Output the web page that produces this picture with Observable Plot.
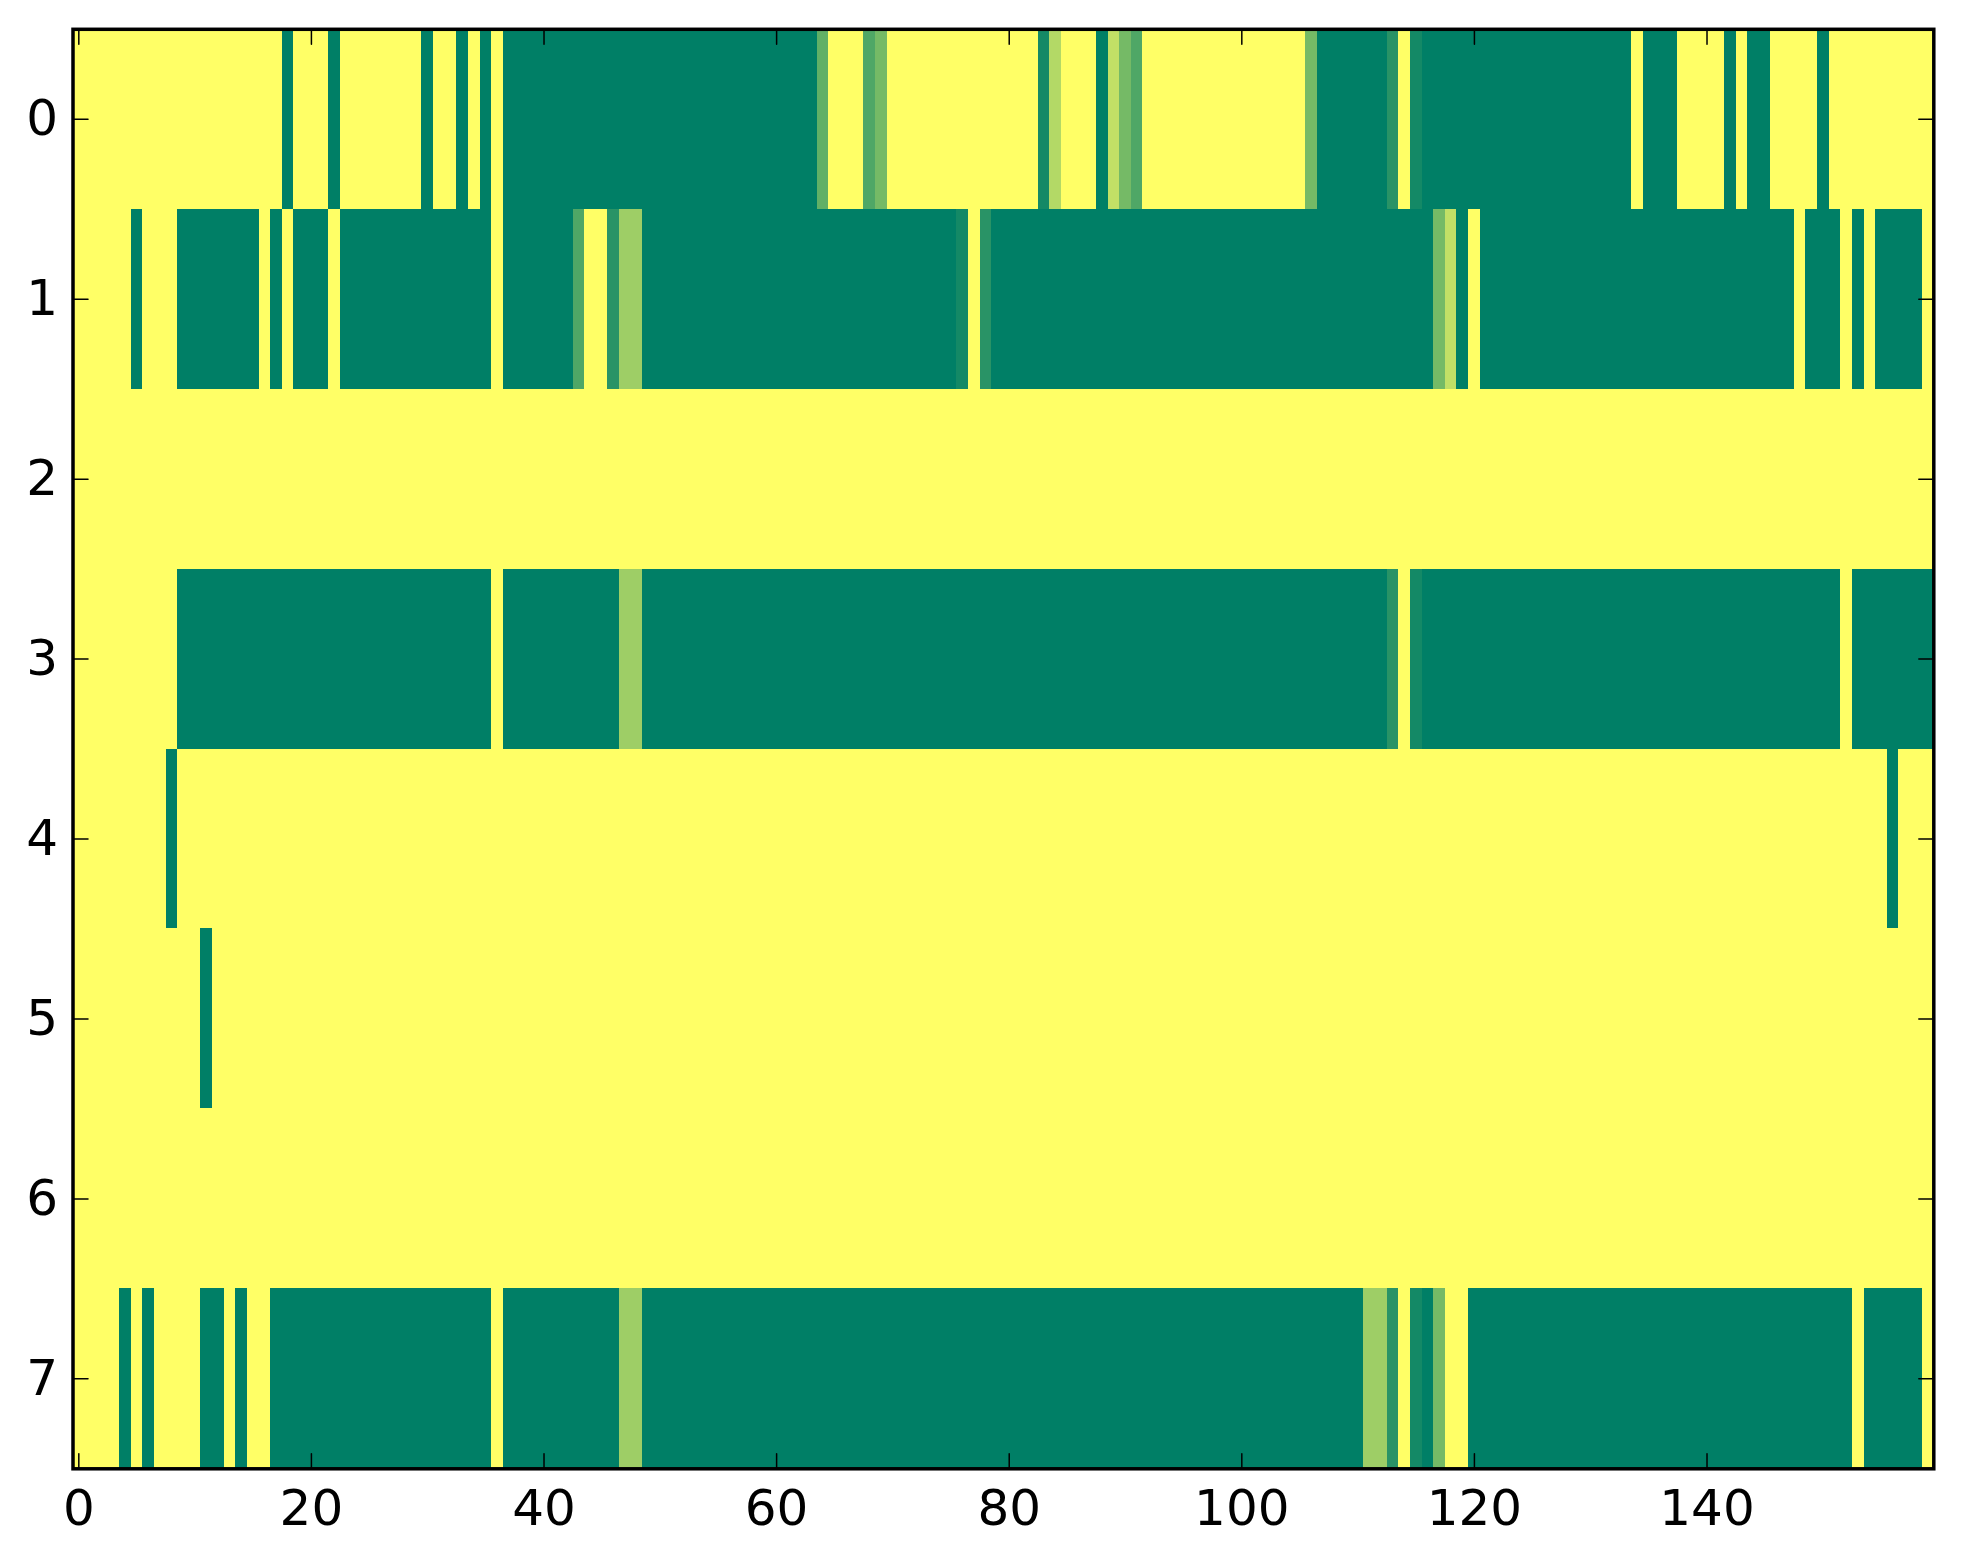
<!DOCTYPE html>
<html>
<head>
<meta charset="utf-8">
<script src="https://cdn.jsdelivr.net/npm/d3@7"></script>
<script src="https://cdn.jsdelivr.net/npm/@observablehq/plot@0.6"></script>
<style>
  html, body { margin: 0; padding: 0; background: #fff; }
  #chart svg { display: block; }
</style>
</head>
<body>
<div id="chart"></div>
<script>
// Each row: runs of [value, number of consecutive columns], read left to right (160 columns)
const row0 = [[1,18],[0,1],[1,3],[0,1],[1,7],[0,1],[1,2],[0,1],[1,1],[0,1],[1,1],[0,27],[0.38,1],[1,3],[0.31,1],[0.46,1],[1,13],[0.08,1],[0.7,1],[1,3],[0,1],[0.76,1],[0.46,1],[0.31,1],[1,14],[0.46,1],[0,6],[0.16,1],[1,1],[0.08,1],[0,18],[1,1],[0,3],[1,4],[0,1],[1,1],[0,2],[1,4],[0,1],[1,9]];
const row1 = [[1,5],[0,1],[1,3],[0,7],[1,1],[0,1],[1,1],[0,3],[1,1],[0,13],[1,1],[0,6],[0.31,1],[1,2],[0.16,1],[0.62,2],[0,27],[0.08,1],[1,1],[0.16,1],[0,38],[0.46,1],[0.76,1],[0,1],[1,1],[0,27],[1,1],[0,3],[1,1],[0,1],[1,1],[0,4],[1,1]];
const row2 = [[1,160]];
const row3 = [[1,9],[0,27],[1,1],[0,10],[0.62,2],[0,64],[0.16,1],[1,1],[0.08,1],[0,36],[1,1],[0,7]];
const row4 = [[1,8],[0,1],[1,147],[0,1],[1,3]];
const row5 = [[1,11],[0,1],[1,148]];
const row6 = [[1,160]];
const row7 = [[1,4],[0,1],[1,1],[0,1],[1,4],[0,2],[1,1],[0,1],[1,2],[0,19],[1,1],[0,10],[0.62,2],[0,62],[0.62,2],[0.16,1],[1,1],[0.08,1],[0,1],[0.46,1],[1,2],[0,33],[1,1],[0,5],[1,1]];
const rows = [row0, row1, row2, row3, row4, row5, row6, row7];

const xTicks = [0, 20, 40, 60, 80, 100, 120, 140];
const yTicks = [0, 1, 2, 3, 4, 5, 6, 7];
const nCols = 160;

// Build one rectangle per run
const runs = [];
rows.forEach((runList, r) => {
  let start = 0;
  for (const [value, count] of runList) {
    runs.push({row: r, start, end: start + count, value});
    start += count;
  }
});

const FONT = "DejaVu Sans";
const tickShape = {draw(context, l) { context.moveTo(0, 0); context.lineTo(0, -l); }};

const chart = Plot.plot({
  width: 1963,
  height: 1564,
  marginLeft: 72.5,
  marginRight: 29.7,
  marginTop: 28.8,
  marginBottom: 95.7,
  style: {fontFamily: FONT, fontSize: "50px", background: "#fff", color: "#000"},
  x: {domain: [-0.5, nCols - 0.5]},
  y: {domain: [-0.5, rows.length - 0.5], reverse: true},
  color: {type: "linear", domain: [0, 1], range: ["#007f66", "#ffff66"], interpolate: "rgb"},
  marks: [
    Plot.rect(runs, {
      x1: d => d.start - 0.5,
      x2: d => d.end - 0.5,
      y1: d => d.row - 0.5,
      y2: d => d.row + 0.5,
      fill: d => d.value,
      shapeRendering: "crispEdges"
    }),
    // inward ticks on all four sides
    Plot.vector(xTicks, {x: d => d, frameAnchor: "bottom", anchor: "start", length: 15, rotate: 0, shape: tickShape, stroke: "black", strokeWidth: 1.5}),
    Plot.vector(xTicks, {x: d => d, frameAnchor: "top", anchor: "start", length: 15, rotate: 180, shape: tickShape, stroke: "black", strokeWidth: 1.5}),
    Plot.vector(yTicks, {y: d => d, frameAnchor: "left", anchor: "start", length: 15, rotate: 90, shape: tickShape, stroke: "black", strokeWidth: 1.5}),
    Plot.vector(yTicks, {y: d => d, frameAnchor: "right", anchor: "start", length: 15, rotate: -90, shape: tickShape, stroke: "black", strokeWidth: 1.5}),
    Plot.axisX(xTicks, {anchor: "bottom", tickSize: 0, tickPadding: 21, fontSize: 50, fontFamily: FONT, label: null, tickFormat: d => String(d)}),
    Plot.axisY(yTicks, {anchor: "left", tickSize: 0, tickPadding: 15, fontSize: 50, fontFamily: FONT, label: null, tickFormat: d => String(d)}),
    Plot.frame({stroke: "black", strokeWidth: 3.5})
  ]
});

document.getElementById("chart").appendChild(chart);
</script>
</body>
</html>
